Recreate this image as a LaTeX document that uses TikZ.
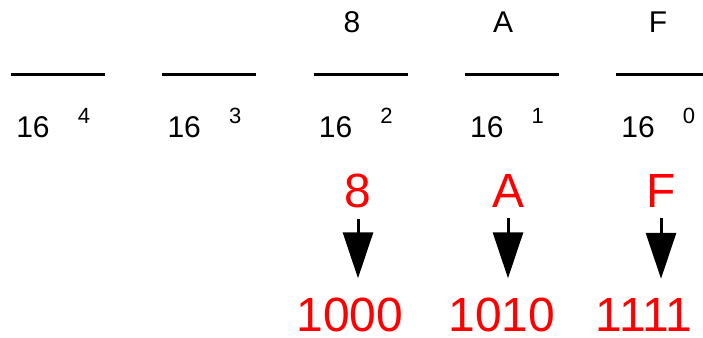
\documentclass[tikz,border=0pt]{standalone}
\usepackage{fontspec}
\setmainfont{Liberation Sans}
\usetikzlibrary{arrows.meta}

\tikzset{
  place/.style={line width=3pt},
  digit/.style={inner sep=0pt,anchor=base,font=\fontsize{30}{30}\selectfont},
  power/.style={inner sep=0pt,anchor=base,font=\fontsize{22}{22}\selectfont},
  hexred/.style={inner sep=0pt,anchor=base,text=red,font=\fontsize{48}{48}\selectfont},
  convert/.style={line width=3pt,-{Triangle[width=30pt,length=46pt]}}
}

\begin{document}
\begin{tikzpicture}[x=1pt,y=-1pt]
  \useasboundingbox (0,0) rectangle (703,337);
  % place values
  \foreach \i/\p in {0/4,1/3,2/2,3/1,4/0}{
    \draw[place] (11+151.25*\i,74) -- ++(94,0);
    \node[digit] (base\p) at (33+151.25*\i,137) {16};
    \node[power] (pow\p) at (84+151.25*\i,123) {\p};
  }
  \node[digit] (top8) at (352,33) {8};
  \node[digit] (topA) at (503,33) {A};
  \node[digit] (topF) at (658,33) {F};
  % hex digits to binary
  \node[hexred] (hex8) at (358,207) {8};
  \node[hexred] (hexA) at (508,207) {A};
  \node[hexred] (hexF) at (661,207) {F};
  \node[hexred] (bin8) at (350,331) {1000};
  \node[hexred] (binA) at (502,331) {1010};
  \node[hexred] (binF) at (644,331) {1111};
  \draw[convert,shorten <=11pt,shorten >=19pt] (hex8.south) -- (hex8.south |- bin8.north);
  \draw[convert,shorten <=11pt,shorten >=19pt] (hexA.south) -- (hexA.south |- binA.north);
  \draw[convert,shorten <=11pt,shorten >=19pt] (hexF.south) -- (hexF.south |- binF.north);
\end{tikzpicture}
\end{document}
